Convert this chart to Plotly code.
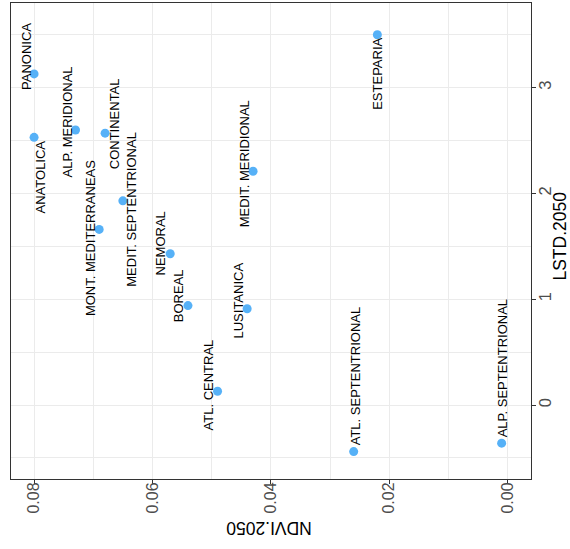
import plotly.graph_objects as go

# ---- data ----
regions = ["PANONICA", "ANATOLICA", "ALP. MERIDIONAL", "CONTINENTAL",
           "MEDIT. SEPTENTRIONAL", "MONT. MEDITERRANEAS", "NEMORAL",
           "MEDIT. MERIDIONAL", "ESTEPARIA", "BOREAL", "LUSITANICA",
           "ATL. CENTRAL", "ATL. SEPTENTRIONAL", "ALP. SEPTENTRIONAL"]
ndvi_2050 = [0.080, 0.080, 0.073, 0.068, 0.065, 0.069, 0.057,
             0.043, 0.022, 0.054, 0.044, 0.049, 0.026, 0.001]
lstd_2050 = [3.13, 2.53, 2.60, 2.57, 1.93, 1.66, 1.43,
             2.21, 3.50, 0.94, 0.91, 0.13, -0.44, -0.36]
ndvi_ticks = [0.00, 0.02, 0.04, 0.06, 0.08]
ndvi_ticklabels = ["0.00", "0.02", "0.04", "0.06", "0.08"]
lstd_ticks = [0, 1, 2, 3]
lstd_ticklabels = ["0", "1", "2", "3"]

# label offsets in pixels (style)
label_offsets = {
    "PANONICA": (-7, 17), "ANATOLICA": (6, -40), "ALP. MERIDIONAL": (-8, 8),
    "CONTINENTAL": (9, 9), "MEDIT. SEPTENTRIONAL": (9, -8),
    "MONT. MEDITERRANEAS": (-8, -8.5), "NEMORAL": (-9.5, 10),
    "MEDIT. MERIDIONAL": (-8.3, 7.7), "ESTEPARIA": (0, -38.7),
    "BOREAL": (-9.3, 10), "LUSITANICA": (-8.7, 8.7), "ATL. CENTRAL": (-8.6, 6.8),
    "ATL. SEPTENTRIONAL": (2, 75), "ALP. SEPTENTRIONAL": (0.8, 75.2),
}

FONT = "Liberation Sans, Arial, sans-serif"

fig = go.Figure()
fig.add_trace(go.Scatter(
    x=ndvi_2050, y=lstd_2050, mode="markers",
    marker=dict(size=9, color="#56B1F7", line=dict(width=0)),
    hovertext=regions, showlegend=False, cliponaxis=False,
))

annotations = []
for name, xv, yv in zip(regions, ndvi_2050, lstd_2050):
    dx, dy = label_offsets[name]
    annotations.append(dict(
        x=xv, y=yv, xref="x", yref="y", text=name, showarrow=False,
        textangle=-90, xshift=dx, yshift=dy, xanchor="center", yanchor="middle",
        font=dict(family=FONT, size=13, color="black"),
    ))

annotations.append(dict(
    x=1.0554, y=0.511, xref="paper", yref="paper", text="LSTD.2050",
    showarrow=False, textangle=-90, xanchor="center", yanchor="middle",
    font=dict(family=FONT, size=17.5, color="black"),
))
annotations.append(dict(
    x=0.496, y=-0.103, xref="paper", yref="paper", text="NDVI.2050",
    showarrow=False, textangle=180, xanchor="center", yanchor="middle",
    font=dict(family=FONT, size=17.5, color="black"),
))

grid_col = "#EBEBEB"
fig.update_layout(
    width=570, height=549,
    margin=dict(l=11, r=39.3, t=3, b=70),
    paper_bgcolor="white", plot_bgcolor="white",
    annotations=annotations,
    xaxis=dict(
        range=[0.0839, -0.00396], tickvals=ndvi_ticks, ticktext=ndvi_ticklabels,
        tickangle=-90, ticks="outside", ticklen=4, tickcolor="#333333", tickwidth=1,
        ticklabelstandoff=-8,
        tickfont=dict(family=FONT, size=16, color="#4D4D4D"),
        showgrid=True, gridcolor=grid_col, gridwidth=1.1,
        minor=dict(dtick=0.01, tick0=0.0, showgrid=True, gridcolor=grid_col, gridwidth=0.55, ticks=""),
        showline=True, linecolor="#333333", linewidth=1, mirror=True,
        zeroline=False,
    ),
    yaxis=dict(
        range=[-0.699, 3.80], side="right", tickvals=lstd_ticks, ticktext=lstd_ticklabels,
        tickangle=-90, ticks="outside", ticklen=4, tickcolor="#333333", tickwidth=1,
        ticklabelstandoff=-5,
        tickfont=dict(family=FONT, size=16.5, color="#4D4D4D"),
        showgrid=True, gridcolor=grid_col, gridwidth=1.1,
        minor=dict(dtick=0.5, tick0=0.0, showgrid=True, gridcolor=grid_col, gridwidth=0.55, ticks=""),
        showline=True, linecolor="#333333", linewidth=1, mirror=True,
        zeroline=False,
    ),
)

fig.write_html("out.html")
